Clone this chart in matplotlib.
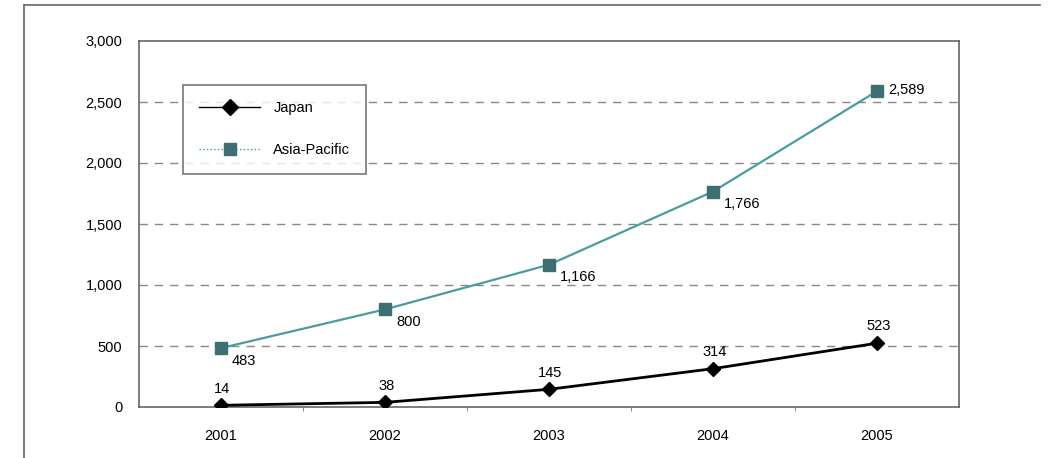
import matplotlib
matplotlib.use('Agg')
import matplotlib.pyplot as plt
from matplotlib.lines import Line2D

plt.rcParams['font.family'] = ['Liberation Sans', 'DejaVu Sans']

years = ['2001', '2002', '2003', '2004', '2005']
japan = [14, 38, 145, 314, 523]
asia_pacific = [483, 800, 1166, 1766, 2589]
y_ticks = [0, 500, 1000, 1500, 2000, 2500, 3000]
y_labels = ['0', '500', '1,000', '1,500', '2,000', '2,500', '3,000']

fs = 10.5

fig = plt.figure(figsize=(10.53, 4.58), dpi=100)
ax = fig.add_axes([139 / 1053, 1 - 407 / 458, 820 / 1053, 366 / 458])

x = list(range(len(years)))
ax.plot(x, asia_pacific, color='#4a9ca3', lw=1.6, marker='s', ms=8,
        mfc='#3e6f72', mec='#3e6f72', label='Asia-Pacific', zorder=3)
ax.plot(x, japan, color='black', lw=2, marker='D', ms=7,
        mfc='black', mec='black', label='Japan', zorder=3)

for i, v in enumerate(japan):
    ax.annotate(str(v), (i, v), xytext=(1, 7), textcoords='offset points',
                ha='center', va='bottom', fontsize=fs)
for i, v in enumerate(asia_pacific):
    lab = f'{v:,}'
    if i == len(asia_pacific) - 1:
        ax.annotate(lab, (i, v), xytext=(8, 1), textcoords='offset points',
                    ha='left', va='center', fontsize=fs)
    else:
        ax.annotate(lab, (i, v), xytext=(8, -4), textcoords='offset points',
                    ha='left', va='top', fontsize=fs)

ax.set_xlim(-0.5, len(years) - 0.5)
ax.set_ylim(0, 3000)
ax.set_xticks(x)
ax.set_xticklabels(years, fontsize=fs)
ax.set_xticks([i + 0.5 for i in range(len(years) - 1)], minor=True)
ax.tick_params(axis='x', which='major', length=0, pad=16)
ax.tick_params(axis='x', which='minor', length=3, color='#777777')
ax.set_yticks(y_ticks)
ax.set_yticklabels(y_labels, fontsize=fs)
ax.tick_params(axis='y', length=0, pad=12)
for v in y_ticks[1:-1]:
    ax.axhline(v, color='#888888', lw=1, ls=(0, (6, 5)), zorder=1)
for s in ax.spines.values():
    s.set_color('#666666')
    s.set_linewidth(1.2)

handles = [
    Line2D([], [], color='black', lw=1, marker='D', ms=8, mfc='black', mec='black'),
    Line2D([], [], color='#4a9ca3', lw=1, ls=':', marker='s', ms=8, mfc='#3e6f72', mec='#3e6f72'),
]
leg = ax.legend(handles, ['Japan', 'Asia-Pacific'], loc='upper left',
                bbox_to_anchor=(44 / 820, 1 - 44 / 366), fontsize=fs,
                frameon=True, fancybox=False, borderpad=1.1, labelspacing=1.95,
                handlelength=4.2, handletextpad=0.9, borderaxespad=0)
leg.get_frame().set_edgecolor('#555555')
leg.get_frame().set_linewidth(1.2)

# outer frame (top and left only)
fig.add_artist(Line2D([24 / 1053, 24 / 1053], [0, 1 - 5 / 458], color='#666666', lw=1.2))
fig.add_artist(Line2D([24 / 1053, 1040 / 1053], [1 - 5 / 458, 1 - 5 / 458], color='#666666', lw=1.2))

fig.savefig('out.png', dpi=100)
